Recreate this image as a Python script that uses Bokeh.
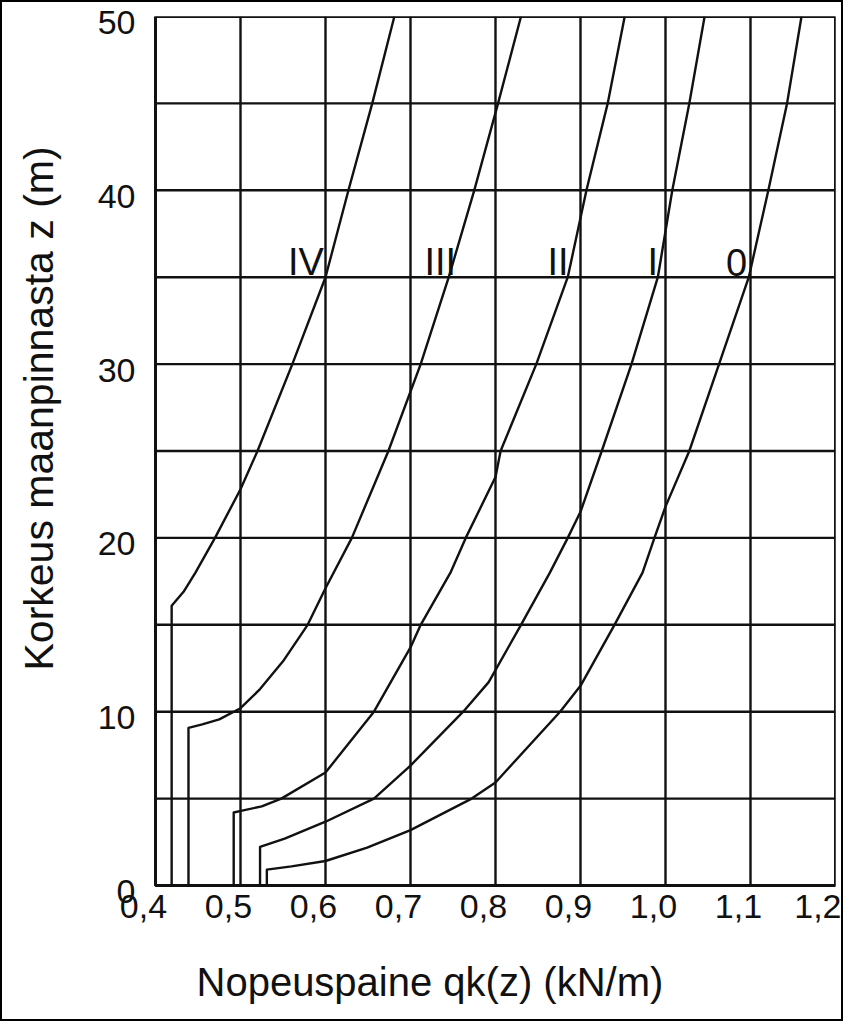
from bokeh.plotting import figure
from bokeh.models import Range1d, LinearAxis, FixedTicker, Title
from bokeh.core.properties import value
from bokeh.embed import file_html
from bokeh.resources import INLINE

# ---------------- data ----------------
x_ticks = [0.4, 0.5, 0.6, 0.7, 0.8, 0.9, 1.0, 1.1, 1.2]
x_tick_labels = ["0,4", "0,5", "0,6", "0,7", "0,8", "0,9", "1,0", "1,1", "1,2"]
y_ticks = [0, 10, 20, 30, 40, 50]
y_tick_labels = ["0", "10", "20", "30", "40", "50"]
grid_q = [0.4, 0.5, 0.6, 0.7, 0.8, 0.9, 1.0, 1.1, 1.2]
grid_z = [0, 5, 10, 15, 20, 25, 30, 35, 40, 45, 50]

# terrain class IV
q_IV = [0.419, 0.419, 0.433, 0.447, 0.470, 0.500, 0.520, 0.561, 0.600, 0.627, 0.655, 0.681]
z_IV = [0.0, 16.1, 16.9, 18.0, 20.0, 22.8, 25.0, 30.0, 35.0, 40.0, 45.0, 50.0]
# terrain class III
q_III = [0.4388, 0.4388, 0.455, 0.475, 0.500, 0.523, 0.550, 0.579, 0.600, 0.631, 0.674, 0.712, 0.745, 0.775, 0.803, 0.830]
z_III = [0.0, 9.07, 9.27, 9.56, 10.2, 11.3, 12.9, 15.0, 17.1, 20.0, 25.0, 30.0, 35.0, 40.0, 45.0, 50.0]
# terrain class II
q_II = [0.492, 0.492, 0.502, 0.525, 0.548, 0.600, 0.657, 0.700, 0.712, 0.747, 0.765, 0.800, 0.806, 0.848, 0.885, 0.907, 0.932, 0.952]
z_II = [0.0, 4.2, 4.31, 4.55, 5.0, 6.5, 10.0, 13.7, 15.0, 18.0, 20.0, 23.5, 25.0, 30.0, 35.0, 40.0, 45.0, 50.0]
# terrain class I
q_I = [0.523, 0.523, 0.552, 0.600, 0.657, 0.700, 0.762, 0.792, 0.830, 0.864, 0.885, 0.900, 0.925, 0.960, 0.991, 1.008, 1.028, 1.046]
z_I = [0.0, 2.22, 2.70, 3.67, 5.0, 6.9, 10.0, 11.7, 15.0, 18.0, 20.0, 21.5, 25.0, 30.0, 35.0, 40.0, 45.0, 50.0]
# terrain class 0
q_0 = [0.531, 0.531, 0.560, 0.600, 0.649, 0.700, 0.772, 0.800, 0.876, 0.900, 0.940, 0.973, 0.987, 1.000, 1.028, 1.063, 1.098, 1.121, 1.143, 1.160]
z_0 = [0.0, 0.91, 1.10, 1.41, 2.18, 3.19, 5.0, 5.93, 10.0, 11.49, 15.0, 18.0, 20.0, 21.8, 25.0, 30.0, 35.0, 40.0, 45.0, 50.0]

curve_q = [q_IV, q_III, q_II, q_I, q_0]
curve_z = [z_IV, z_III, z_II, z_I, z_0]

label_names = ["IV", "III", "II", "I", "0"]
label_q = [0.577, 0.735, 0.8735, 0.985, 1.0835]
label_z = [35.85, 35.85, 35.85, 35.85, 35.85]

x_title = "Nopeuspaine qk(z) (kN/m)"
y_title = "Korkeus maanpinnasta z (m)"

# ---------------- layout constants ----------------
FONT = "Liberation Sans"
INK = "#111111"
PX_PER_Q = 850.0
PX_PER_Z = 17.38
SHIFT_X_PX = 12.0   # tick labels sit a little left of their grid lines
SHIFT_Y_PX = 6.0    # and a little below
sx = SHIFT_X_PX / PX_PER_Q
sz = SHIFT_Y_PX / PX_PER_Z

W, H = 843, 1021
BL, BR, BT, BB = 141, 10, 14, 132

q_min, q_max = min(grid_q), max(grid_q)
z_min, z_max = min(grid_z), max(grid_z)

p = figure(
    width=W, height=H,
    x_range=Range1d(q_min - sx, q_max),
    y_range=Range1d(z_min - sz, z_max),
    x_axis_location=None, y_axis_location=None,
    toolbar_location=None, output_backend="svg",
    min_border_left=BL, min_border_right=BR, min_border_top=BT, min_border_bottom=BB,
    background_fill_color="white", border_fill_color="white",
)
p.outline_line_color = None
p.xgrid.grid_line_color = None
p.ygrid.grid_line_color = None
p.styles = {"border": "2px solid #000000"}

p.extra_x_ranges = {"xlab": Range1d(q_min, q_max + sx)}
p.extra_y_ranges = {"ylab": Range1d(z_min, z_max + sz)}

xaxis = LinearAxis(
    x_range_name="xlab",
    ticker=FixedTicker(ticks=x_ticks),
    major_label_overrides=dict(zip(x_ticks, x_tick_labels)),
    axis_line_color=None, major_tick_line_color=None, minor_tick_line_color=None,
    major_label_text_font=FONT, major_label_text_font_size="34px",
    major_label_text_color=INK, major_label_standoff=-3,
)
p.add_layout(xaxis, "below")

yaxis = LinearAxis(
    y_range_name="ylab",
    ticker=FixedTicker(ticks=y_ticks),
    major_label_overrides=dict(zip(y_ticks, y_tick_labels)),
    axis_line_color=None, major_tick_line_color=None, minor_tick_line_color=None,
    major_label_text_font=FONT, major_label_text_font_size="34px",
    major_label_text_color=INK, major_label_standoff=2,
)
p.add_layout(yaxis, "left")

# spacers between tick labels and axis titles
p.add_layout(Title(text=" ", text_font_size="1px", standoff=34), "below")
p.add_layout(Title(text=" ", text_font_size="1px", standoff=30), "left")

# axis titles (Title annotations so they can be offset along the side)
p.add_layout(Title(text=x_title, align="left", offset=53, standoff=0,
                   text_font=FONT, text_font_size="40px", text_font_style="normal",
                   text_color=INK), "below")
p.add_layout(Title(text=y_title, align="left", offset=221, standoff=0,
                   text_font=FONT, text_font_size="41px", text_font_style="normal",
                   text_color=INK), "left")

# grid
p.segment(x0=grid_q, y0=[z_min] * len(grid_q), x1=grid_q, y1=[z_max] * len(grid_q),
          line_color=INK, line_width=2.4)
p.segment(x0=[q_min] * len(grid_z), y0=grid_z, x1=[q_max] * len(grid_z), y1=grid_z,
          line_color=INK, line_width=2.4)
p.quad(left=[q_min], right=[q_max], bottom=[z_min], top=[z_max],
       fill_color=None, line_color=INK, line_width=3)

# curves
for qs, zs in zip(curve_q, curve_z):
    p.line(qs, zs, line_color=INK, line_width=2.4, line_join="round")

# class labels
p.text(x=label_q, y=label_z, text=label_names, text_align="center",
       text_baseline="alphabetic", text_font=value(FONT), text_font_size="38px",
       text_color=INK)

open("out.html", "w").write(file_html(p, INLINE))
